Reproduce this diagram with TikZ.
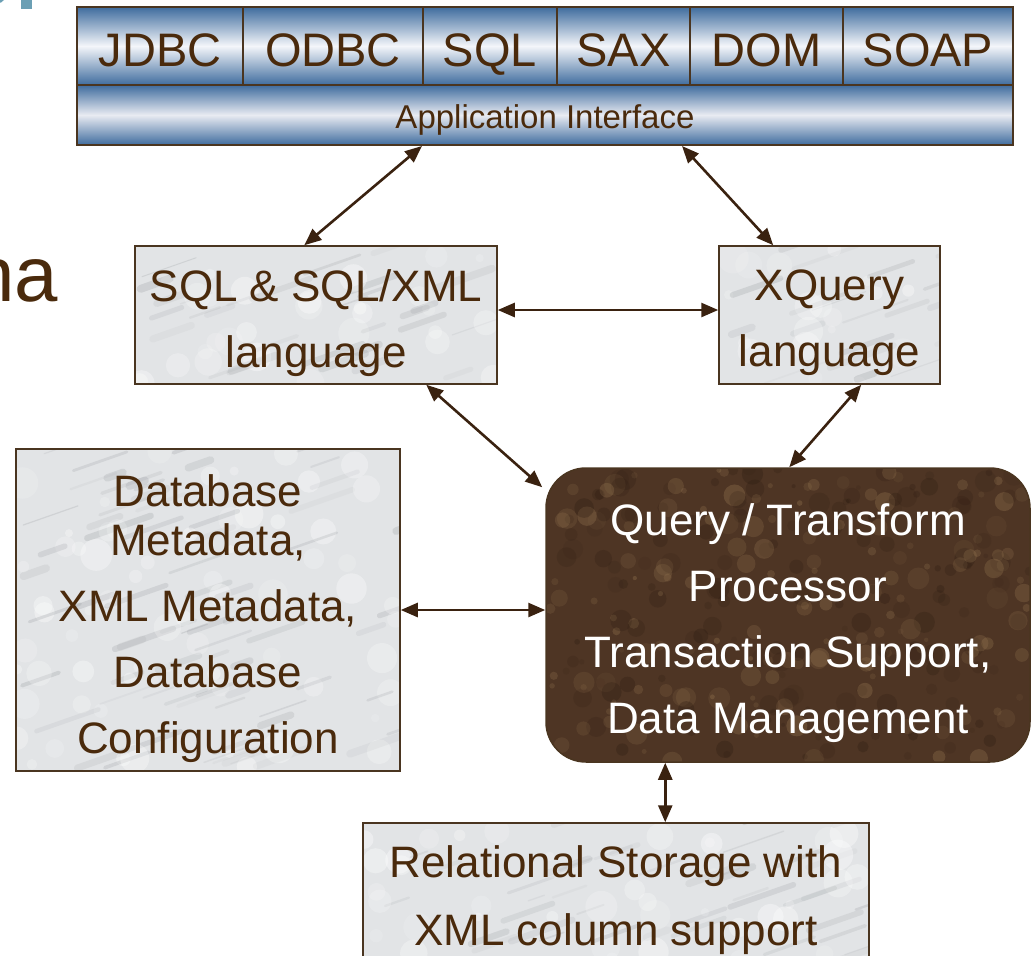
\documentclass[tikz,border=0pt]{standalone}
\usepackage{fontspec}
\setmainfont{Liberation Sans}
\usetikzlibrary{arrows.meta,calc}
\definecolor{ink}{HTML}{4A2A0C}
\definecolor{arrowc}{HTML}{3A2210}
\definecolor{boxline}{HTML}{4A3520}
\definecolor{barblue}{HTML}{3F6C9E}
\definecolor{barwhite}{HTML}{F4F6FA}
\definecolor{apiwhite}{HTML}{E9EBF2}
\definecolor{marblebase}{HTML}{E2E4E6}
\definecolor{marblevein}{HTML}{8E9296}
\definecolor{procbase}{HTML}{4E3524}
\definecolor{proclight}{HTML}{A08058}
\definecolor{procdark}{HTML}{2A1A10}
\definecolor{fragcol}{HTML}{6B9FB4}
\begin{document}
\begin{tikzpicture}[x=1pt,y=-1pt,
  cell/.style={draw=boxline, line width=1.5pt, minimum height=78pt, inner sep=0pt,
    top color=barblue, bottom color=barblue, middle color=barwhite,
    text=ink, font=\fontsize{47}{50}\selectfont, text height=40pt, text depth=0pt},
  apibar/.style={draw=boxline, line width=2pt, minimum width=936pt, minimum height=60pt, inner sep=0pt,
    top color=barblue, bottom color=barblue, middle color=apiwhite,
    text=ink, font=\fontsize{33}{36}\selectfont, text height=26pt, text depth=0pt},
  marbletex/.style={path picture={
    \foreach \k in {1,...,#1}{
      \pgfmathsetmacro\rx{rnd}\pgfmathsetmacro\ry{rnd}
      \pgfmathsetmacro\rl{15+50*rnd}\pgfmathsetmacro\rh{0.35*\rl}
      \pgfmathsetmacro\rw{1+7*rnd}\pgfmathsetmacro\ro{0.06+0.18*rnd}
      \draw[line width=\rw pt, draw=marblevein, opacity=\ro, line cap=round]
        let \p1=(path picture bounding box.south west), \p2=(path picture bounding box.north east) in
        ({\x1+\rx*(\x2-\x1)},{\y1+\ry*(\y2-\y1)}) -- ++({\rl*1pt},{\rh*1pt});
      \pgfmathsetmacro\rx{rnd}\pgfmathsetmacro\ry{rnd}
      \pgfmathsetmacro\rr{4+12*rnd}\pgfmathsetmacro\ro{0.12+0.25*rnd}
      \fill[white, opacity=\ro]
        let \p1=(path picture bounding box.south west), \p2=(path picture bounding box.north east) in
        ({\x1+\rx*(\x2-\x1)},{\y1+\ry*(\y2-\y1)}) circle ({\rr*1pt});
    }}},
  marblebox/.style={draw=boxline, line width=1.5pt, fill=marblebase, inner sep=0pt, marbletex=#1},
  boxtext/.style={inner sep=0pt, text=ink, align=center, font=\fontsize{44}{66}\selectfont},
  brownbox/.style={draw=boxline, line width=1.5pt, fill=procbase, rounded corners=40pt, inner sep=0pt,
    path picture={
    \foreach \k in {1,...,320}{
      \pgfmathsetmacro\rx{rnd}\pgfmathsetmacro\ry{rnd}
      \pgfmathsetmacro\rr{2+9*rnd}\pgfmathsetmacro\ro{0.08+0.22*rnd}
      \pgfmathsetmacro\rc{rnd}
      \pgfmathparse{\rc>0.5 ? 1 : 0}\let\light\pgfmathresult
      \fill[fill={\ifnum\light=1 proclight\else procdark\fi}, opacity=\ro]
        let \p1=(path picture bounding box.south west), \p2=(path picture bounding box.north east) in
        ({\x1+\rx*(\x2-\x1)},{\y1+\ry*(\y2-\y1)}) circle ({\rr*1pt});
    }}},
  conn/.style={draw=arrowc, line width=2.6pt,
    {Triangle[length=17pt,width=14pt]}-{Triangle[length=17pt,width=14pt]}}
]
\pgfmathsetseed{11}
\useasboundingbox (0,0) rectangle (1034,956);
\clip (0,0) rectangle (1034,956);

% cut-off fragments from the slide
\fill[fragcol] (21,0) rectangle (32,9);
\fill[fragcol] (0,0) -- (4,0) -- (1,2.5) -- (0,2.5) -- cycle;
\node[anchor=base east, inner sep=0pt, text=ink, font=\fontsize{78}{80}\selectfont] (na) at (58,301) {na};

% top bar
\node[cell, minimum width=166pt] (jdbc) at (160,46) {JDBC};
\node[cell, minimum width=180pt] (odbc) at (333,46) {ODBC};
\node[cell, minimum width=134pt] (sqlc) at (490,46) {SQL};
\node[cell, minimum width=133pt] (sax)  at (623.5,46) {SAX};
\node[cell, minimum width=153pt] (dom)  at (766.5,46) {DOM};
\node[cell, minimum width=170pt] (soap) at (928,46) {SOAP};
\node[apibar] (api) at (545,115) {Application Interface};

% boxes
\node[marblebox=30, minimum width=362pt, minimum height=138pt] (sqlbox) at (316,315) {};
\node[boxtext] (sqltext) at ([yshift=-8pt]sqlbox.center) {SQL \& SQL/XML\\language};
\node[marblebox=20, minimum width=221pt, minimum height=138pt] (xq) at (829.5,315) {};
\node[boxtext] (xqtext) at ([yshift=-8pt]xq.center) {XQuery\\language};
\node[marblebox=70, minimum width=384pt, minimum height=322pt] (meta) at (208,610) {};
\node[boxtext] (metatext) at ([yshift=-9pt]meta.center)
  {Database\\[-17pt]Metadata,\\XML Metadata,\\Database\\Configuration};
\node[brownbox, minimum width=484pt, minimum height=294pt] (proc) at (788,615) {};
\node[boxtext, text=white] (proctext) at ([yshift=-8pt]proc.center)
  {Query / Transform\\Processor\\Transaction Support,\\Data Management};
\node[marblebox=40, minimum width=506pt, minimum height=140pt] (rel) at (616,893) {};
\node[boxtext, font=\fontsize{44}{68}\selectfont] (reltext) at ([yshift=-7pt]rel.center)
  {Relational Storage with\\XML column support};

% connectors
\draw[conn] ([xshift=346pt]api.south west) -- ([xshift=170pt]sqlbox.north west);
\draw[conn] ([xshift=606pt]api.south west) -- ([xshift=55pt]xq.north west);
\draw[conn] ([yshift=5pt]sqlbox.east) -- ([yshift=5pt]xq.west);
\draw[conn] ([xshift=292pt]sqlbox.south west) -- ([xshift=-3pt,yshift=-20pt]proc.north west);
\draw[conn] ([xshift=143pt]xq.south west) -- ([xshift=244pt]proc.north west);
\draw[conn] (meta.east) -- ([yshift=5pt]proc.west);
\draw[conn] ([xshift=120pt]proc.south west) -- ([xshift=303pt]rel.north west);
\end{tikzpicture}
\end{document}
